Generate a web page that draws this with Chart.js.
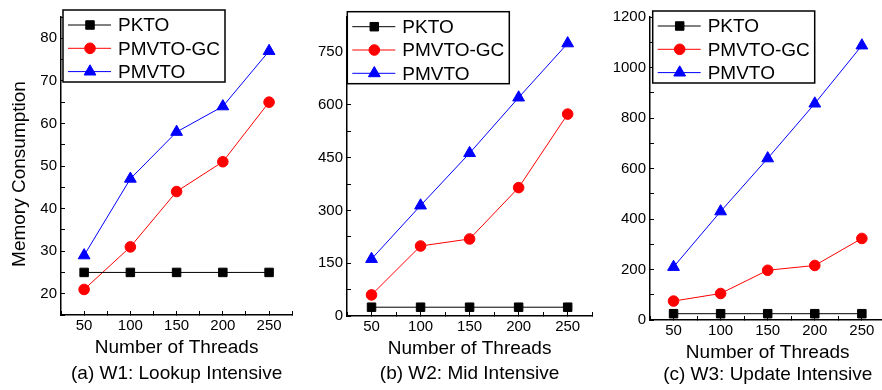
<!DOCTYPE html>
<html>
<head>
<meta charset="utf-8">
<script src="https://cdn.jsdelivr.net/npm/chart.js@4.4.1/dist/chart.umd.min.js"></script>
<style>
html, body { margin: 0; padding: 0; background: #fff; overflow: hidden; }
#wrap { position: relative; width: 882px; height: 390px; overflow: hidden; }
canvas { position: absolute; top: 0; }
</style>
</head>
<body>
<div id="wrap">
  <canvas id="c1" width="300" height="390" style="left:0px"></canvas>
  <canvas id="c2" width="300" height="390" style="left:300px"></canvas>
  <canvas id="c3" width="300" height="390" style="left:600px"></canvas>
</div>
<script>
const threads = [50, 100, 150, 200, 250];
const seriesNames = ["PKTO", "PMVTO-GC", "PMVTO"];

// W1: Lookup Intensive
const w1Pkto = [25, 25, 25, 25, 25];
const w1Gc = [21, 31, 44, 51, 65];
const w1Pmvto = [29, 47, 58, 64, 77];

// W2: Mid Intensive
const w2Pkto = [25, 25, 25, 25, 25];
const w2Gc = [60, 199, 219, 365, 574];
const w2Pmvto = [162, 314, 463, 621, 775];

// W3: Update Intensive
const w3Pkto = [25, 25, 25, 25, 25];
const w3Gc = [75, 105, 197, 216, 323];
const w3Pmvto = [210, 430, 640, 857, 1087];

const captions = ["(a) W1: Lookup Intensive", "(b) W2: Mid Intensive", "(c) W3: Update Intensive"];
const FONT = '"Liberation Sans", Arial, sans-serif';

Chart.defaults.font.family = FONT;
Chart.defaults.color = "#000";

function drawMarker(ctx, style, r, x, y, color) {
    ctx.fillStyle = color;
    ctx.strokeStyle = color;
    ctx.lineWidth = 1;
    ctx.beginPath();
    if (style === "rect") {
        const s = Math.SQRT1_2 * r;
        ctx.rect(x - s, y - s, 2 * s, 2 * s);
    } else if (style === "triangle") {
        ctx.moveTo(x, y - r);
        ctx.lineTo(x + r * Math.sin(Math.PI * 2 / 3), y + r / 2);
        ctx.lineTo(x - r * Math.sin(Math.PI * 2 / 3), y + r / 2);
        ctx.closePath();
    } else {
        ctx.arc(x, y, r, 0, Math.PI * 2);
    }
    ctx.fill();
    ctx.stroke();
}

// legend box inside the plot, like the original
const boxLegend = {
    id: "boxLegend",
    afterDraw(chart, args, opts) {
        const ctx = chart.ctx;
        const x0 = opts.left, y0 = opts.top;
        ctx.save();
        ctx.fillStyle = "#fff";
        ctx.fillRect(x0, y0, 162, 72);
        ctx.lineWidth = 1.5;
        ctx.strokeStyle = "#000";
        ctx.strokeRect(x0, y0, 162, 72);
        chart.data.datasets.forEach((ds, i) => {
            const y = y0 + 15 + i * 23.3;
            ctx.strokeStyle = ds.borderColor;
            ctx.lineWidth = 1;
            ctx.beginPath();
            ctx.moveTo(x0 + 5, y);
            ctx.lineTo(x0 + 48, y);
            ctx.stroke();
            drawMarker(ctx, ds.pointStyle, ds.pointRadius, x0 + 27, y, ds.pointBackgroundColor);
            ctx.fillStyle = "#000";
            ctx.font = "19px " + FONT;
            ctx.textBaseline = "middle";
            ctx.textAlign = "left";
            ctx.fillText(ds.label, x0 + 55, y + 1);
        });
        ctx.restore();
    }
};

const captionText = {
    id: "captionText",
    afterDraw(chart, args, opts) {
        const ctx = chart.ctx;
        const a = chart.chartArea;
        ctx.save();
        ctx.fillStyle = "#000";
        ctx.font = "19px " + FONT;
        ctx.textAlign = "center";
        ctx.textBaseline = "middle";
        ctx.fillText(opts.text, (a.left + a.right) / 2, opts.y);
        if (opts.yTitle) {
            ctx.translate(opts.yTitleX, opts.yTitleY);
            ctx.rotate(-Math.PI / 2);
            ctx.fillText(opts.yTitle, 0, 0);
        }
        ctx.restore();
    }
};

function makeChart(id, pkto, gc, pmvto, cfg) {
    const pts = arr => threads.map((t, i) => ({ x: t, y: arr[i] }));
    new Chart(document.getElementById(id), {
        type: "line",
        data: {
            datasets: [
                { label: seriesNames[0], data: pts(pkto), borderColor: "#000", backgroundColor: "#000",
                  pointBackgroundColor: "#000", pointBorderColor: "#000", pointStyle: "rect", pointRadius: 6, borderWidth: 1 },
                { label: seriesNames[1], data: pts(gc), borderColor: "#ff0000", backgroundColor: "#ff0000",
                  pointBackgroundColor: "#ff0000", pointBorderColor: "#ff0000", pointStyle: "circle", pointRadius: 5.3, borderWidth: 1 },
                { label: seriesNames[2], data: pts(pmvto), borderColor: "#0000ff", backgroundColor: "#0000ff",
                  pointBackgroundColor: "#0000ff", pointBorderColor: "#0000ff", pointStyle: "triangle", pointRadius: 6.8, borderWidth: 1 }
            ]
        },
        options: {
            responsive: false,
            animation: false,
            devicePixelRatio: 1,
            layout: { padding: { left: 0, top: cfg.top, right: cfg.right, bottom: 0 } },
            plugins: {
                legend: { display: false },
                tooltip: { enabled: false },
                boxLegend: { left: cfg.legendLeft, top: cfg.legendTop },
                captionText: { text: cfg.caption, y: cfg.captionY, yTitle: cfg.yTitle,
                               yTitleX: 19.5, yTitleY: 174 }
            },
            scales: {
                x: {
                    type: "linear", min: 25, max: 275,
                    ticks: {
                        stepSize: 25, autoSkip: false, maxRotation: 0, padding: 5.5,
                        font: { size: 15 }, color: "#000",
                        callback: v => (v % 50 === 0 && v >= 50 && v <= 250) ? String(v) : ""
                    },
                    grid: { drawOnChartArea: false, drawTicks: true, tickLength: -4, color: "#000", lineWidth: 1 },
                    border: { display: true, color: "#000", width: 1.5 },
                    title: { display: true, text: "Number of Threads", font: { size: 19 }, color: "#000",
                             padding: { top: 0, bottom: cfg.titlePad } },
                    afterFit: s => { s.height = cfg.xHeight; }
                },
                y: {
                    type: "linear", min: cfg.yMin, max: cfg.yMax,
                    ticks: {
                        stepSize: cfg.yStep, autoSkip: false, padding: 8,
                        font: { size: 15 }, color: "#000",
                        callback: v => (v % cfg.yLabelStep === 0) ? String(v) : ""
                    },
                    grid: { drawOnChartArea: false, drawTicks: true, tickLength: -4, lineWidth: 1,
                            color: c => (c.tick && c.tick.value % cfg.yStep === 0) ? "#000" : "rgba(0,0,0,0)" },
                    border: { display: true, color: "#000", width: 1.5 },
                    afterFit: s => { s.width = cfg.yWidth; }
                }
            }
        },
        plugins: [boxLegend, captionText]
    });
}

makeChart("c1", w1Pkto, w1Gc, w1Pmvto, {
    top: 9, right: 7, yWidth: 61, xHeight: 75, titlePad: 30.6,
    yMin: 15, yMax: 85, yStep: 5, yLabelStep: 10,
    legendLeft: 63, legendTop: 10, caption: captions[0], captionY: 373.5,
    yTitle: "Memory Consumption"
});
makeChart("c2", w2Pkto, w2Gc, w2Pmvto, {
    top: 12, right: 5.5, yWidth: 47, xHeight: 74, titlePad: 29.6,
    yMin: 0, yMax: 850, yStep: 75, yLabelStep: 150,
    legendLeft: 47.3, legendTop: 11.7, caption: captions[1], captionY: 374
});
makeChart("c3", w3Pkto, w3Gc, w3Pmvto, {
    top: 15.7, right: 14.6, yWidth: 50, xHeight: 70, titlePad: 26.3,
    yMin: 0, yMax: 1200, yStep: 100, yLabelStep: 200,
    legendLeft: 52.7, legendTop: 11, caption: captions[2], captionY: 374.5
});
</script>
</body>
</html>
